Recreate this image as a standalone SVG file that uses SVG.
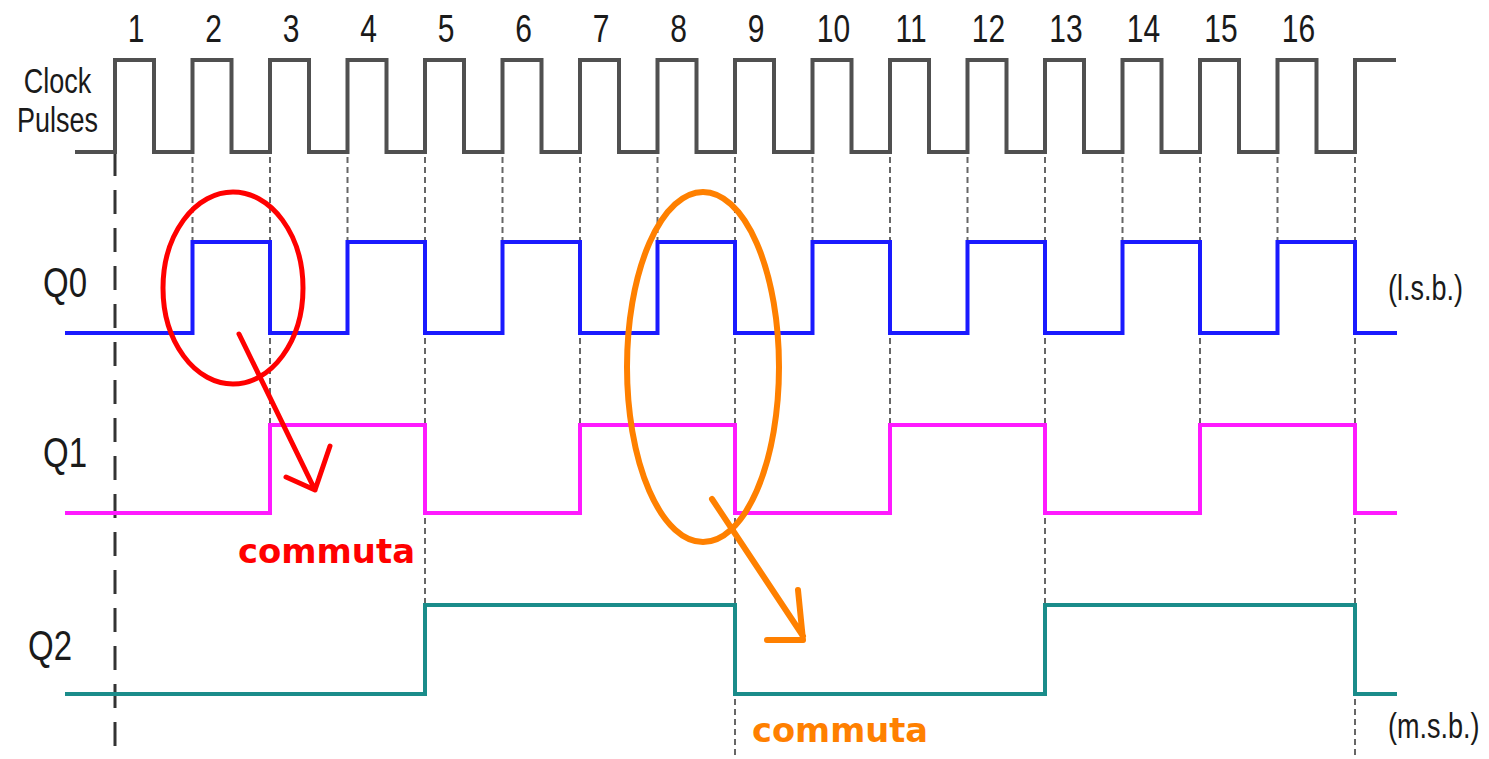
<svg xmlns="http://www.w3.org/2000/svg" width="1489" height="759" viewBox="0 0 1489 759">
  <style>
    .lbl { font-family: "Liberation Sans", Arial, sans-serif; fill: #1a1a1a; }
    .num { font-size: 30px; text-anchor: middle; }
    .clk { font-size: 27px; text-anchor: middle; }
    .q { font-size: 33px; }
    .bit { font-size: 27px; }
    .wave { fill: none; stroke-width: 4; stroke-linejoin: miter; }
    .dot { stroke: #666; stroke-width: 2; stroke-dasharray: 6 4; }
    .note { font-family: "DejaVu Sans", Verdana, sans-serif; font-weight: bold; font-size: 34px; }
    .mark { fill: none; stroke-linecap: round; stroke-linejoin: round; }
  </style>
  <rect width="1489" height="759" fill="#fff"/>

  <!-- pulse numbers -->
  <g id="pulse-numbers" class="lbl num">
    <text transform="translate(136,42) scale(1,1.3)">1</text>
    <text transform="translate(213.5,42) scale(1,1.3)">2</text>
    <text transform="translate(291,42) scale(1,1.3)">3</text>
    <text transform="translate(368.5,42) scale(1,1.3)">4</text>
    <text transform="translate(446,42) scale(1,1.3)">5</text>
    <text transform="translate(523.5,42) scale(1,1.3)">6</text>
    <text transform="translate(601,42) scale(1,1.3)">7</text>
    <text transform="translate(678.5,42) scale(1,1.3)">8</text>
    <text transform="translate(756,42) scale(1,1.3)">9</text>
    <text transform="translate(833.5,42) scale(1,1.3)">10</text>
    <text transform="translate(911,42) scale(1,1.3)">11</text>
    <text transform="translate(988.5,42) scale(1,1.3)">12</text>
    <text transform="translate(1066,42) scale(1,1.3)">13</text>
    <text transform="translate(1143.5,42) scale(1,1.3)">14</text>
    <text transform="translate(1221,42) scale(1,1.3)">15</text>
    <text transform="translate(1298.5,42) scale(1,1.3)">16</text>
  </g>

  <!-- signal names -->
  <g id="labels" class="lbl">
    <text class="clk" transform="translate(57.5,93) scale(1,1.3)">Clock</text>
    <text class="clk" transform="translate(57.5,132) scale(1,1.3)">Pulses</text>
    <text class="q" transform="translate(43,297) scale(1,1.3)">Q0</text>
    <text class="q" transform="translate(43,467) scale(1,1.3)">Q1</text>
    <text class="q" transform="translate(28,660) scale(1,1.3)">Q2</text>
    <text class="bit" transform="translate(1388,300) scale(1,1.3)">(l.s.b.)</text>
    <text class="bit" transform="translate(1388,738) scale(1,1.3)">(m.s.b.)</text>
  </g>

  <!-- timing guides -->
  <g id="guides">
    <line x1="115" y1="152" x2="115" y2="752" stroke="#333" stroke-width="3" stroke-dasharray="24 14"/>
    <g class="dot">
      <line x1="192.5" y1="157" x2="192.5" y2="240"/>
      <line x1="270" y1="157" x2="270" y2="240"/>
      <line x1="347.5" y1="157" x2="347.5" y2="240"/>
      <line x1="425" y1="157" x2="425" y2="240"/>
      <line x1="502.5" y1="157" x2="502.5" y2="240"/>
      <line x1="580" y1="157" x2="580" y2="240"/>
      <line x1="657.5" y1="157" x2="657.5" y2="240"/>
      <line x1="735" y1="157" x2="735" y2="240"/>
      <line x1="812.5" y1="157" x2="812.5" y2="240"/>
      <line x1="890" y1="157" x2="890" y2="240"/>
      <line x1="967.5" y1="157" x2="967.5" y2="240"/>
      <line x1="1045" y1="157" x2="1045" y2="240"/>
      <line x1="1122.5" y1="157" x2="1122.5" y2="240"/>
      <line x1="1200" y1="157" x2="1200" y2="240"/>
      <line x1="1277.5" y1="157" x2="1277.5" y2="240"/>
      <line x1="1355" y1="157" x2="1355" y2="240"/>

      <line x1="270" y1="338" x2="270" y2="423"/>
      <line x1="425" y1="338" x2="425" y2="423"/>
      <line x1="580" y1="338" x2="580" y2="423"/>
      <line x1="735" y1="338" x2="735" y2="423"/>
      <line x1="890" y1="338" x2="890" y2="423"/>
      <line x1="1045" y1="338" x2="1045" y2="423"/>
      <line x1="1200" y1="338" x2="1200" y2="423"/>
      <line x1="1355" y1="338" x2="1355" y2="423"/>

      <line x1="425" y1="518" x2="425" y2="603"/>
      <line x1="735" y1="518" x2="735" y2="603"/>
      <line x1="1045" y1="518" x2="1045" y2="603"/>
      <line x1="1355" y1="518" x2="1355" y2="603"/>

      <line x1="735" y1="699" x2="735" y2="759"/>
      <line x1="1355" y1="699" x2="1355" y2="759"/>
    </g>
  </g>

  <!-- waveforms -->
  <g id="clock">
    <path class="wave" stroke="#505050" stroke-width="3" d="M75,152 H115 V60 H154 V152 H192.5 V60 H231.5 V152 H270 V60 H309 V152 H347.5 V60 H386.5 V152 H425 V60 H464 V152 H502.5 V60 H541.5 V152 H580 V60 H619 V152 H657.5 V60 H696.5 V152 H735 V60 H774 V152 H812.5 V60 H851.5 V152 H890 V60 H929 V152 H967.5 V60 H1006.5 V152 H1045 V60 H1084 V152 H1122.5 V60 H1161.5 V152 H1200 V60 H1239 V152 H1277.5 V60 H1316.5 V152 H1355 V60 H1396"/>
  </g>
  <g id="q0">
    <path class="wave" stroke="#1a1aff" d="M65,333 H192.5 V242 H270 V333 H347.5 V242 H425 V333 H502.5 V242 H580 V333 H657.5 V242 H735 V333 H812.5 V242 H890 V333 H967.5 V242 H1045 V333 H1122.5 V242 H1200 V333 H1277.5 V242 H1355 V333 H1397"/>
  </g>
  <g id="q1">
    <path class="wave" stroke="#ff1aff" d="M65,513 H270 V425 H425 V513 H580 V425 H735 V513 H890 V425 H1045 V513 H1200 V425 H1355 V513 H1397"/>
  </g>
  <g id="q2">
    <path class="wave" stroke="#1a8c8a" d="M65,694 H425 V605 H735 V694 H1045 V605 H1355 V694 H1397"/>
  </g>

  <!-- hand-drawn annotations -->
  <g id="note-red">
    <ellipse class="mark" cx="233" cy="288" rx="70" ry="96" stroke="#ff0000" stroke-width="5"/>
    <path class="mark" stroke="#ff0000" stroke-width="5" d="M239,334 L315,490 M286,477 L315,490 L330,446"/>
    <text class="note" x="238" y="563" fill="#ff0000" textLength="177" lengthAdjust="spacingAndGlyphs">commuta</text>
  </g>
  <g id="note-orange">
    <ellipse class="mark" cx="703" cy="367" rx="76" ry="175" stroke="#ff8000" stroke-width="6"/>
    <path class="mark" stroke="#ff8000" stroke-width="6" d="M712,499 L803,636 M798,590 L803,640 L767,640"/>
    <text class="note" x="752" y="742" fill="#ff8000" textLength="176" lengthAdjust="spacingAndGlyphs">commuta</text>
  </g>
</svg>
